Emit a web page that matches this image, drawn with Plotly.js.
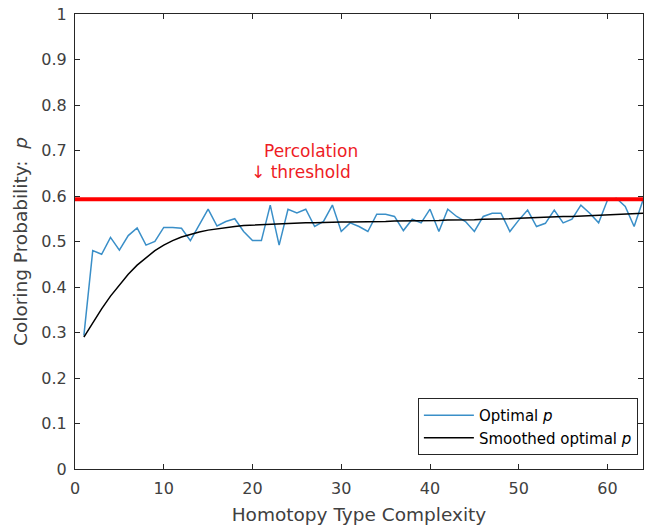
<!DOCTYPE html>
<html>
<head>
<meta charset="utf-8">
<script src="https://cdn.plot.ly/plotly-3.0.1.min.js"></script>
<style>html,body{margin:0;padding:0;background:#fff;}#chart{width:647px;height:529px;}</style>
</head>
<body>
<div id="chart"></div>
<script>
const complexity = [];
for (let i = 1; i <= 64; i++) complexity.push(i);

const optimalP = [0.293,0.480,0.472,0.509,0.481,0.513,0.530,0.492,0.500,0.531,
  0.531,0.529,0.502,0.535,0.571,0.534,0.544,0.550,0.522,0.502,
  0.502,0.580,0.492,0.571,0.563,0.571,0.533,0.544,0.580,0.522,
  0.541,0.533,0.522,0.560,0.560,0.555,0.524,0.549,0.541,0.571,
  0.522,0.571,0.555,0.544,0.522,0.555,0.562,0.562,0.522,0.547,
  0.569,0.533,0.540,0.569,0.541,0.549,0.580,0.562,0.541,0.591,
  0.595,0.577,0.533,0.591];

const smoothedP = [0.290,0.322,0.352,0.380,0.405,0.428,0.448,0.465,0.480,0.492,
  0.502,0.510,0.516,0.521,0.525,0.528,0.531,0.533,0.535,0.536,
  0.537,0.538,0.539,0.540,0.540,0.541,0.541,0.542,0.542,0.543,
  0.543,0.543,0.544,0.544,0.544,0.545,0.545,0.545,0.546,0.546,
  0.546,0.547,0.547,0.548,0.548,0.549,0.549,0.550,0.550,0.551,
  0.552,0.552,0.553,0.554,0.555,0.555,0.556,0.557,0.558,0.559,
  0.559,0.560,0.561,0.562];

const thresholdX = [0, 64];
const thresholdY = [0.5927, 0.5927];

const yTickVals = [0,0.1,0.2,0.3,0.4,0.5,0.6,0.7,0.8,0.9,1];
const yTickText = ['0','0.1','0.2','0.3','0.4','0.5','0.6','0.7','0.8','0.9','1'];
const xTickVals = [0,10,20,30,40,50,60];
const xTickText = ['0','10','20','30','40','50','60'];

const font = 'DejaVu Sans, sans-serif';
const axisColor = '#262626';

const traces = [
  {x: complexity, y: optimalP, type: 'scatter', mode: 'lines', name: 'Optimal <i>p</i>',
   line: {color: '#3a8fc8', width: 1.5}},
  {x: complexity, y: smoothedP, type: 'scatter', mode: 'lines', name: 'Smoothed optimal <i>p</i>',
   line: {color: '#000000', width: 1.5}},
  {x: thresholdX, y: thresholdY, type: 'scatter', mode: 'lines', showlegend: false,
   line: {color: '#ff0000', width: 4}}
];

const axisCommon = {
  showgrid: false, zeroline: false, showline: true, linecolor: axisColor, linewidth: 1,
  mirror: 'ticks', ticks: 'inside', ticklen: 5, tickcolor: axisColor, tickwidth: 1,
  tickfont: {family: font, size: 16, color: '#404040'}
};

const layout = {
  width: 647, height: 529,
  margin: {l: 75, r: 4, t: 14, b: 60},
  paper_bgcolor: '#ffffff', plot_bgcolor: '#ffffff',
  font: {family: font, color: axisColor},
  xaxis: Object.assign({}, axisCommon, {
    range: [0, 64], tickvals: xTickVals, ticktext: xTickText, ticklabelstandoff: 5,
    title: {text: 'Homotopy Type Complexity', font: {family: font, size: 18.5, color: '#404040'}, standoff: 10}
  }),
  yaxis: Object.assign({}, axisCommon, {
    range: [0, 1], tickvals: yTickVals, ticktext: yTickText, ticklabelstandoff: 4,
    title: {text: 'Coloring Probability:  <i>p</i>', font: {family: font, size: 18.5, color: '#404040'}, standoff: 8}
  }),
  showlegend: true,
  legend: {
    x: 0.991, y: 0.031, xanchor: 'right', yanchor: 'bottom',
    bgcolor: '#ffffff', bordercolor: '#262626', borderwidth: 1,
    font: {family: font, size: 15, color: '#000000'},
    itemwidth: 50, tracegroupgap: 0
  },
  annotations: [
    {x: 21.1, y: 0.70, xref: 'x', yref: 'y', xanchor: 'left', yanchor: 'middle',
     text: 'Percolation', showarrow: false, font: {family: font, size: 17, color: '#ee1c25'}},
    {x: 19.6, y: 0.652, xref: 'x', yref: 'y', xanchor: 'left', yanchor: 'middle',
     text: '↓ threshold', showarrow: false, font: {family: font, size: 17, color: '#ee1c25'}}
  ]
};

Plotly.newPlot('chart', traces, layout, {displayModeBar: false, staticPlot: true});
</script>
</body>
</html>
